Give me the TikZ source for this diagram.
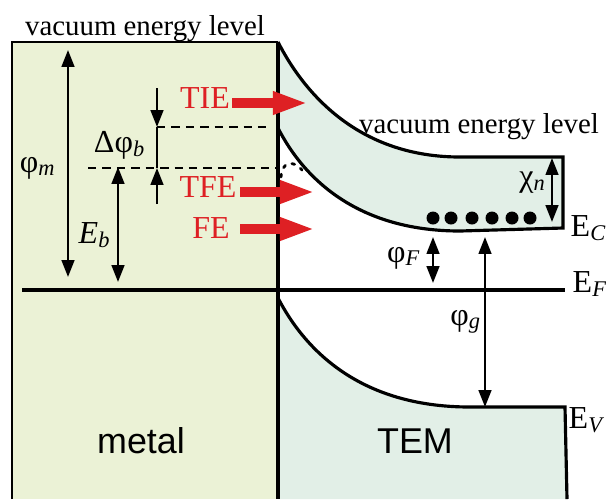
\documentclass[tikz,border=0pt]{standalone}
\usepackage{fontspec}
\setmainfont{Liberation Serif}
\setsansfont{Liberation Sans}
\usetikzlibrary{arrows.meta}

\definecolor{metalfill}{RGB}{235,242,214}
\definecolor{temfill}{RGB}{226,239,231}
\definecolor{emitred}{RGB}{222,32,36}

\tikzset{
  dimtip/.tip={Triangle[length=4.8pt,width=3.6pt]},
  band/.style={line width=0.9pt},
  dimline/.style={line width=0.65pt},
  levelline/.style={line width=0.7pt, dash pattern=on 2.4pt off 1.7pt},
  emitarrow/.style={emitred, line width=2.9pt, -{Triangle[length=10pt,width=6pt]}},
  lbl/.style={inner sep=0pt, font=\fontsize{9.1}{10}\selectfont},
  redlbl/.style={lbl, text=emitred},
  vaclbl/.style={inner sep=0pt, anchor=base, font=\fontsize{8.2}{9}\selectfont},
  matlbl/.style={inner sep=0pt, font=\sffamily\fontsize{10.2}{11}\selectfont}
}

\begin{document}
\begin{tikzpicture}[x=0.01cm, y=-0.01cm]
  \useasboundingbox (0,0) rectangle (606,499);

  % Metal block
  \fill[metalfill] (12,42) rectangle (278,499);
  \draw[line width=0.7pt] (12,499) -- (12,42) -- (278,42);

  % TEM conduction band (vacuum level to E_C)
  \fill[temfill] (278,42) .. controls (305,95) and (360,157) .. (460,157) -- (563,157)
    -- (563,228) -- (460,231) .. controls (360,231) and (305,181) .. (278,128) -- cycle;
  \draw[band] (278,42) .. controls (305,95) and (360,157) .. (460,157) -- (563,157)
    -- (563,228) -- (460,231) .. controls (360,231) and (305,181) .. (278,128);

  % TEM valence band
  \fill[temfill] (278,298) .. controls (305,350) and (360,407) .. (470,407) -- (565,407)
    -- (567,499) -- (278,499) -- cycle;
  \draw[band] (278,298) .. controls (305,350) and (360,407) .. (470,407) -- (565,407)
    -- (567,499);

  % Interface and Fermi level
  \draw[line width=1.2pt] (278,42) -- (278,499);
  \draw[band] (22,290) -- (565,290);

  % Barrier levels
  \draw[levelline] (157,127) -- (272,127);
  \draw[levelline] (88,168) -- (278,168);
  \draw[line width=0.8pt, dotted, line cap=round] (281,177) .. controls (282,162) and (292,159) .. (302,170);

  % Energy arrows
  \draw[dimline, dimtip-dimtip] (68,50) -- (68,277);
  \draw[dimline, dimtip-dimtip] (118,167) -- (118,282);
  \draw[dimline, -dimtip] (157,88) -- (157,127);
  \draw[dimline] (157,127) -- (157,168);
  \draw[dimline, -dimtip] (157,204) -- (157,168);
  \draw[dimline, dimtip-dimtip] (552,158) -- (552,222);
  \draw[dimline, dimtip-dimtip] (433,237) -- (433,283);
  \draw[dimline, dimtip-dimtip] (485,237) -- (485,407);

  % Electrons at E_C
  \foreach \ex in {433,451,472,492,512,530}
    \fill (\ex,218) circle (6.5);

  % Emission mechanisms
  \draw[emitarrow] (232,103) -- (308,103);
  \draw[emitarrow] (240,192) -- (315,192);
  \draw[emitarrow] (240,229) -- (315,229);
  \node[redlbl] (tie) at (205,98) {TIE};
  \node[redlbl] (tfe) at (208,187) {TFE};
  \node[redlbl] (fe) at (211,228) {FE};

  % Labels
  \node[vaclbl] (vacm) at (145,35) {vacuum energy level};
  \node[vaclbl] (vacs) at (479,133) {vacuum energy level};
  \node[lbl] (phim) at (38,168) {φ\textsubscript{\itshape m}};
  \node[lbl] (dphib) at (120,145) {Δφ\textsubscript{\itshape b}};
  \node[lbl] (eb) at (95,235) {\itshape E\textsubscript{b}};
  \node[lbl] (chin) at (533,183) {χ\textsubscript{\itshape n}};
  \node[lbl] (phif) at (404,258) {φ\textsubscript{\itshape F}};
  \node[lbl] (phig) at (466,322) {φ\textsubscript{\itshape g}};
  \node[lbl, anchor=west] (ec) at (570,228) {E\textsubscript{\itshape C}};
  \node[lbl, anchor=west] (ef) at (572,284) {E\textsubscript{\itshape F}};
  \node[lbl, anchor=west] (ev) at (568,420) {E\textsubscript{\itshape V}};
  \node[matlbl] (metal) at (141,441) {metal};
  \node[matlbl] (tem) at (415,441) {TEM};
\end{tikzpicture}
\end{document}
